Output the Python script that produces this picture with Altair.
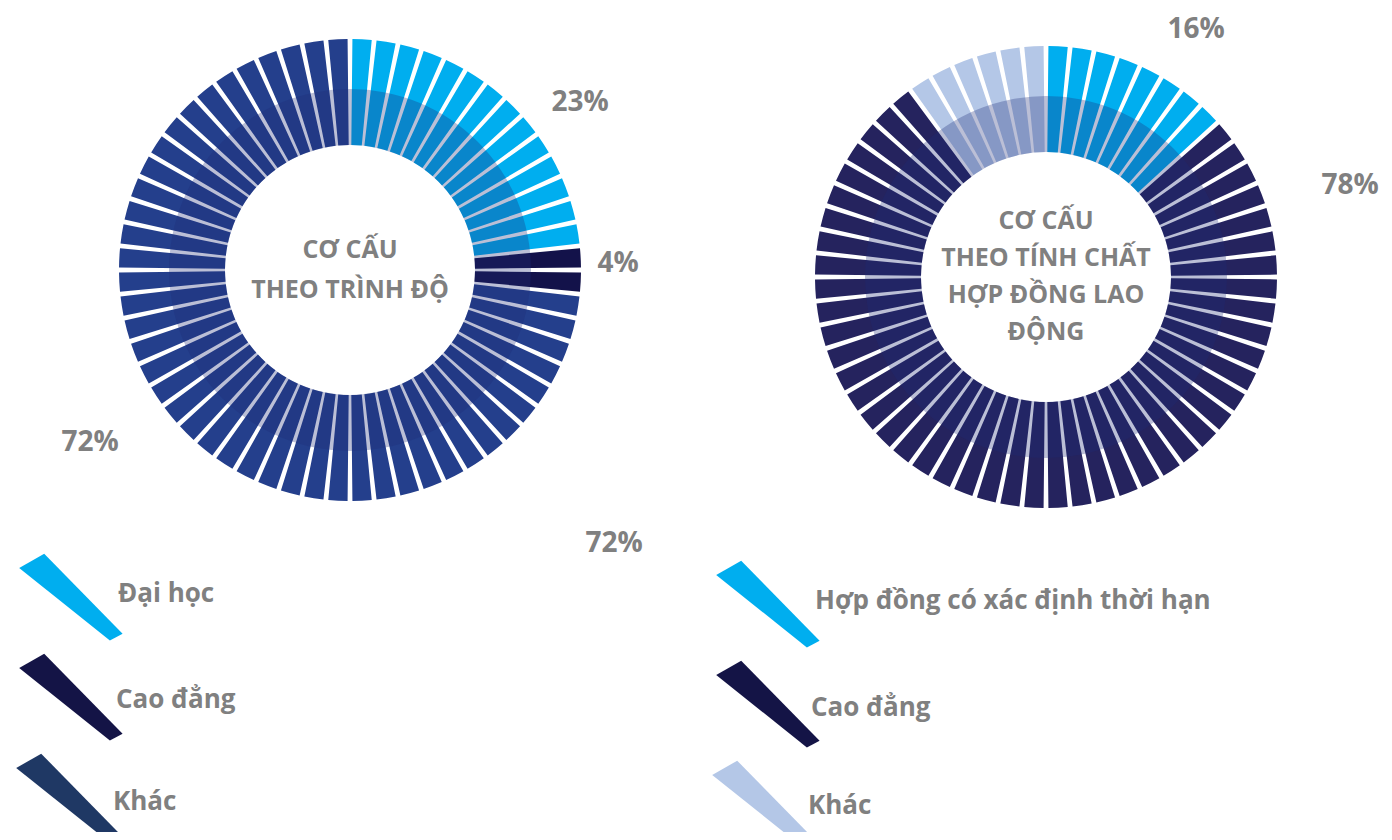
import math
import altair as alt
import pandas as pd

# ---------------- data ----------------
d1_categories = ["Đại học", "Cao đẳng", "Khác"]
d1_segments = [14, 2, 44]          # number of ring segments per category
d1_labels = ["23%", "4%", "72%", "72%"]
d1_title = ["CƠ CẤU", "THEO TRÌNH ĐỘ"]

d2_categories = ["Hợp đồng có xác định thời hạn", "Cao đẳng", "Khác"]
d2_segments = [8, 46, 6]
d2_labels = ["16%", "78%"]
d2_title = ["CƠ CẤU", "THEO TÍNH CHẤT", "HỢP ĐỒNG LAO", "ĐỘNG"]

# ---------------- style / layout ----------------
d1_ring_colors = ["#00AEEF", "#13124A", "#243F8C"]
d1_legend_colors = ["#00AEEF", "#141446", "#1F3864"]
d2_ring_colors = ["#00AEEF", "#25235E", "#B4C7E7"]
d2_legend_colors = ["#00AEEF", "#141446", "#B4C7E7"]
TEXT_GRAY = "#808080"
FONT = "Open Sans"

M = 8  # page margin
W, H = 1392 - 2 * M, 840 - 2 * M
N_SEG = 60
GAP = 0.2
R_OUT, R_IN, R_OV = 231, 125, 181
centers = [(350, 270), (1046, 277)]

d1_label_pos = [(580, 103), (618, 264), (90, 443), (614, 544)]
d2_label_pos = [(1196, 30), (1350, 186)]
d1_title_y0, d2_title_y0 = 250, 221
d1_title_lh, d2_title_lh = 40, 37

d1_wedge_pos = [(74, 599), (74, 699), (71, 799)]
d2_wedge_pos = [(771, 606), (771, 706), (767, 806)]
d1_text_pos = [(118, 594), (116, 700), (113, 802)]
d2_text_pos = [(815, 601), (811, 708), (808, 806)]

# wedge shape (unit path, scaled by symbol size)
WEDGE = "M -1.096 -0.62 L -0.596 -0.906 L 0.972 0.694 L 0.718 0.828 Z"
WEDGE_SIZE = 10000

# ---------------- build tables ----------------
seg_rows = []
for d, (counts, cats, cols) in enumerate(
    [(d1_segments, d1_categories, d1_ring_colors),
     (d2_segments, d2_categories, d2_ring_colors)]):
    i = 0
    for cat, n, col in zip(cats, counts, cols):
        for _ in range(n):
            seg_rows.append({"donut": d, "cat": cat, "t0": i + GAP / 2,
                             "t1": i + 1 - GAP / 2, "col": col})
            i += 1
seg_df = pd.DataFrame(seg_rows)

theta_scale = alt.Scale(domain=[0, N_SEG], range=[0, 2 * math.pi])

layers = []
for d, (cx, cy) in enumerate(centers):
    ring = alt.Chart(seg_df).transform_filter(alt.datum.donut == d).mark_arc(
        radius=R_OUT, radius2=R_IN, strokeWidth=0
    ).encode(
        theta=alt.Theta("t0:Q", scale=theta_scale, stack=None),
        theta2="t1:Q",
        color=alt.Color("col:N", scale=None),
        x=alt.value(cx - M),
        y=alt.value(cy - M),
    )
    overlay = alt.Chart(pd.DataFrame({"k": [0]})).mark_arc(
        radius=R_OV, radius2=R_IN, theta=0, theta2=2 * math.pi,
        color="#1E2A78", opacity=0.3
    ).encode(x=alt.value(cx - M), y=alt.value(cy - M))
    layers += [ring, overlay]

# percent labels
lab_rows = []
for txt, (x, y) in zip(d1_labels, d1_label_pos):
    lab_rows.append({"t": txt, "x": x - M, "y": y - M})
for txt, (x, y) in zip(d2_labels, d2_label_pos):
    lab_rows.append({"t": txt, "x": x - M, "y": y - M})
layers.append(alt.Chart(pd.DataFrame(lab_rows)).mark_text(
    font=FONT, fontSize=28, fontWeight="bold", color=TEXT_GRAY,
    align="center", baseline="middle"
).encode(x=alt.X("x:Q", scale=None), y=alt.Y("y:Q", scale=None), text="t:N"))

# center titles
title_rows = []
for k, line in enumerate(d1_title):
    title_rows.append({"t": line, "x": centers[0][0] - M,
                       "y": d1_title_y0 + k * d1_title_lh - M})
for k, line in enumerate(d2_title):
    title_rows.append({"t": line, "x": centers[1][0] - M,
                       "y": d2_title_y0 + k * d2_title_lh - M})
layers.append(alt.Chart(pd.DataFrame(title_rows)).mark_text(
    font=FONT, fontSize=25, fontWeight="bold", color=TEXT_GRAY,
    align="center", baseline="middle"
).encode(x=alt.X("x:Q", scale=None), y=alt.Y("y:Q", scale=None), text="t:N"))

# legends
leg_rows = []
for cats, cols, wpos, tpos in [
        (d1_categories, d1_legend_colors, d1_wedge_pos, d1_text_pos),
        (d2_categories, d2_legend_colors, d2_wedge_pos, d2_text_pos)]:
    for cat, col, (wx, wy), (tx, ty) in zip(cats, cols, wpos, tpos):
        leg_rows.append({"cat": cat, "col": col, "wx": wx - M, "wy": wy - M,
                         "tx": tx - M, "ty": ty - M})
leg_df = pd.DataFrame(leg_rows)

layers.append(alt.Chart(leg_df).mark_point(
    shape=WEDGE, size=WEDGE_SIZE, filled=True, opacity=1, strokeWidth=0
).encode(
    x=alt.X("wx:Q", scale=None), y=alt.Y("wy:Q", scale=None),
    color=alt.Color("col:N", scale=None)))

layers.append(alt.Chart(leg_df).mark_text(
    font=FONT, fontSize=26, fontWeight="bold", color=TEXT_GRAY,
    align="left", baseline="middle"
).encode(x=alt.X("tx:Q", scale=None), y=alt.Y("ty:Q", scale=None), text="cat:N"))

chart = alt.layer(*layers).properties(
    width=W, height=H, padding=0,
    autosize=alt.AutoSizeParams(type="none"),
).configure_view(stroke=None).configure_axis(disable=True)

chart.save("out.html", embed_options={"renderer": "svg", "actions": False})
